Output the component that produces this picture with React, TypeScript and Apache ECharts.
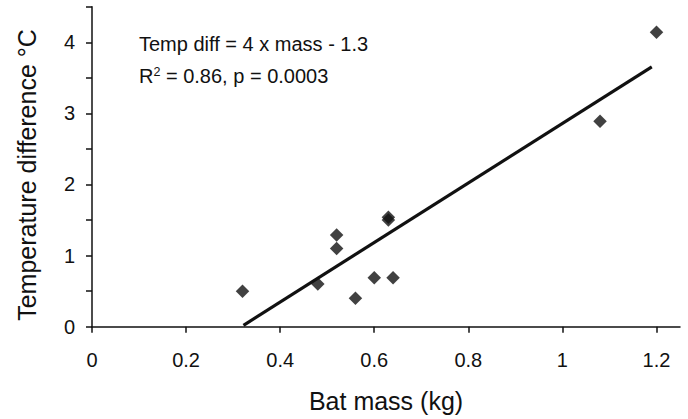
import React, { useEffect, useRef } from "react";
import * as echarts from "echarts";

const massValues = [0.32, 0.48, 0.52, 0.52, 0.56, 0.6, 0.63, 0.63, 0.64, 1.08, 1.2];
const tempValues = [0.5, 0.6, 1.29, 1.1, 0.4, 0.69, 1.54, 1.5, 0.69, 2.89, 4.14];

const fitMass = [0.322, 1.19];
const fitTemp = [0.02, 3.655];

const xTickValues = [0, 0.2, 0.4, 0.6, 0.8, 1, 1.2];
const yTickValues = [0, 0.5, 1, 1.5, 2, 2.5, 3, 3.5, 4, 4.5];
const yLabelValues = [0, 1, 2, 3, 4];

const xTitle = "Bat mass (kg)";
const yTitle = "Temperature difference °C";
const eqLine1 = "Temp diff = 4 x mass - 1.3";
const eqLine2 = "{r|R}{s|2}{r| = 0.86, p = 0.0003}";

const FONT = "'Liberation Sans', Arial, Helvetica, sans-serif";
const INK = "#111111";

export default function App() {
  const ref = useRef<HTMLDivElement>(null);
  useEffect(() => {
    if (!ref.current) return;
    const chart = echarts.init(ref.current, undefined, { renderer: "svg" });
    const axisCommon = {
      axisLine: { show: true, lineStyle: { color: INK, width: 1.5 } },
      splitLine: { show: false },
    };
    chart.setOption({
      animation: false,
      backgroundColor: "#ffffff",
      grid: {
        left: 92,
        right: 8,
        top: 6.7,
        bottom: 92.3,
        containLabel: false,
        outerBoundsMode: "none",
      },
      xAxis: {
        type: "value",
        min: 0,
        max: 1.25,
        ...axisCommon,
        axisTick: {
          show: true,
          inside: false,
          length: 6,
          customValues: xTickValues,
          lineStyle: { color: INK, width: 1.5 },
        },
        axisLabel: {
          customValues: xTickValues,
          margin: 23.5,
          fontSize: 20,
          fontFamily: FONT,
          color: INK,
        },
        name: xTitle,
        nameLocation: "middle",
        nameGap: 61.5,
        nameTextStyle: { fontSize: 25, fontFamily: FONT, color: INK, verticalAlign: "top" },
      },
      yAxis: {
        type: "value",
        min: 0,
        max: 4.5,
        ...axisCommon,
        axisTick: {
          show: true,
          inside: false,
          length: 6,
          customValues: yTickValues,
          lineStyle: { color: INK, width: 1.5 },
        },
        axisLabel: {
          customValues: yLabelValues,
          margin: 17,
          fontSize: 20,
          fontFamily: FONT,
          color: INK,
        },
      },
      graphic: [
        {
          type: "text",
          x: 27,
          y: 175,
          rotation: Math.PI / 2,
          style: {
            text: yTitle,
            fontSize: 25,
            fontFamily: FONT,
            fill: INK,
            align: "center",
            verticalAlign: "middle",
          },
        },
        {
          type: "text",
          x: 139,
          y: 44.1,
          style: {
            text: eqLine1,
            fontSize: 20,
            fontFamily: FONT,
            fill: INK,
            align: "left",
            verticalAlign: "middle",
          },
        },
        {
          type: "text",
          x: 139,
          y: 76,
          style: {
            text: eqLine2,
            fontSize: 20,
            fontFamily: FONT,
            fill: INK,
            align: "left",
            verticalAlign: "middle",
            rich: {
              r: { fontSize: 20, fontFamily: FONT, fill: INK, lineHeight: 22 },
              s: { fontSize: 12.5, fontFamily: FONT, fill: INK, lineHeight: 13, verticalAlign: "top" },
            },
          },
        },
      ],
      series: [
        {
          type: "line",
          data: fitMass.map((m, i) => [m, fitTemp[i]]),
          showSymbol: false,
          symbol: "none",
          lineStyle: { color: INK, width: 3.2 },
          z: 2,
        },
        {
          type: "scatter",
          data: massValues.map((m, i) => [m, tempValues[i]]),
          symbol: "diamond",
          symbolSize: [13.5, 13.5],
          itemStyle: { color: INK },
          z: 3,
        },
      ],
    });
    return () => chart.dispose();
  }, []);
  return (
    <div
      ref={ref}
      style={{ position: "fixed", left: 0, top: 0, width: 688, height: 419, background: "#fff" }}
    />
  );
}
